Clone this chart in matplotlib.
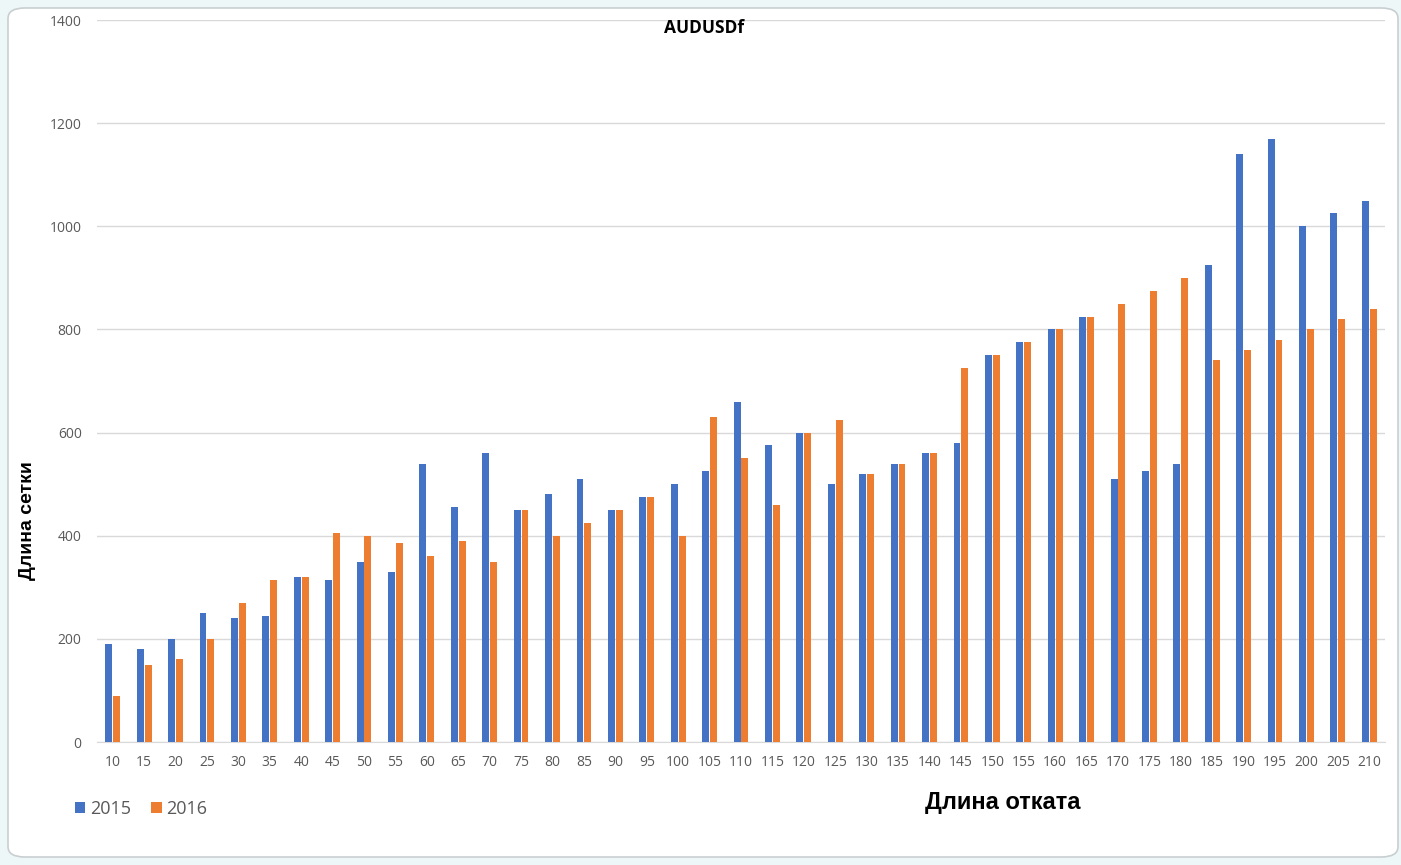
import matplotlib
matplotlib.use("Agg")
import matplotlib.pyplot as plt
from matplotlib.patches import FancyBboxPatch
import numpy as np

categories = [10, 15, 20, 25, 30, 35, 40, 45, 50, 55, 60, 65, 70, 75, 80, 85, 90, 95, 100,
              105, 110, 115, 120, 125, 130, 135, 140, 145, 150, 155, 160, 165, 170, 175,
              180, 185, 190, 195, 200, 205, 210]
series_2015 = [190, 180, 200, 250, 240, 245, 320, 315, 350, 330, 540, 455, 560, 450, 480, 510,
               450, 475, 500, 525, 660, 575, 600, 500, 520, 540, 560, 580, 750, 775, 800, 825,
               510, 525, 540, 925, 1140, 1170, 1000, 1025, 1050]
series_2016 = [90, 150, 160, 200, 270, 315, 320, 405, 400, 385, 360, 390, 350, 450, 400, 425,
               450, 475, 400, 630, 550, 460, 600, 625, 520, 540, 560, 725, 750, 775, 800, 825,
               850, 875, 900, 740, 760, 780, 800, 820, 840]
series_names = ["2015", "2016"]
yticks = [0, 200, 400, 600, 800, 1000, 1200, 1400]

title = "AUDUSDf"
xlabel = "Длина отката"
ylabel = "Длина сетки"

BLUE = "#4472C4"
ORANGE = "#ED7D31"
GRAY = "#595959"

W, H = 1401, 865
fig = plt.figure(figsize=(W / 100, H / 100), dpi=100)
fig.patch.set_facecolor("#eef7f8")

# chart area (rounded white panel)
panel = FancyBboxPatch((8 / W, 8 / H), (1390 / W), (849 / H),
                       boxstyle="round,pad=0,rounding_size=0.012",
                       transform=fig.transFigure, facecolor="white",
                       edgecolor="#c9cfd1", linewidth=1.2, zorder=-10)
fig.patches.append(panel)

ax = fig.add_axes([97 / W, 1 - 742 / H, (1385 - 97) / W, (742 - 20) / H])
ax.set_facecolor("none")
ax.set_zorder(5)

x = np.arange(len(categories))
bw = 0.22
off = 0.125
ax.bar(x - off, series_2015, width=bw, color=BLUE, zorder=3, label=series_names[0])
ax.bar(x + off, series_2016, width=bw, color=ORANGE, zorder=3, label=series_names[1])

ax.set_xlim(-0.5, len(categories) - 0.5)
ax.set_ylim(0, 1400)
ax.set_yticks(yticks)
ax.set_yticklabels([str(v) for v in yticks], fontsize=10, color=GRAY, family="Open Sans")
ax.set_xticks(x)
ax.set_xticklabels([str(c) for c in categories], fontsize=10, color=GRAY, family="Open Sans")
ax.tick_params(axis="both", length=0)
ax.tick_params(axis="y", pad=11)
ax.tick_params(axis="x", pad=9)
ax.grid(axis="y", color="#d9d9d9", linewidth=1, zorder=0)
ax.set_axisbelow(True)
for s in ["top", "right", "left"]:
    ax.spines[s].set_visible(False)
ax.spines["bottom"].set_color("#d9d9d9")

fig.text(704 / W, 1 - 28 / H, title, ha="center", va="center", fontsize=12.5,
         fontweight="bold", family="Open Sans", color="black", zorder=6)
fig.text(1003 / W, 1 - 803 / H, xlabel, ha="center", va="center", fontsize=17,
         fontweight="bold", family="Liberation Sans", color="black", zorder=6)
fig.text(28 / W, 1 - 521 / H, ylabel, ha="center", va="center", fontsize=14,
         fontweight="bold", family="Liberation Sans", color="black", rotation=90, zorder=6)

# legend
leg = fig.legend(loc="center left", bbox_to_anchor=(71 / W, 1 - 809 / H), ncol=2,
                 frameon=False, prop={"family": "Open Sans", "size": 13},
                 handlelength=0.6, handleheight=0.6, handletextpad=0.25, columnspacing=1.1,
                 borderaxespad=0, borderpad=0.2)
leg.set_zorder(6)
for t in leg.get_texts():
    t.set_color(GRAY)

fig.savefig("out.png", dpi=100, facecolor=fig.get_facecolor())
